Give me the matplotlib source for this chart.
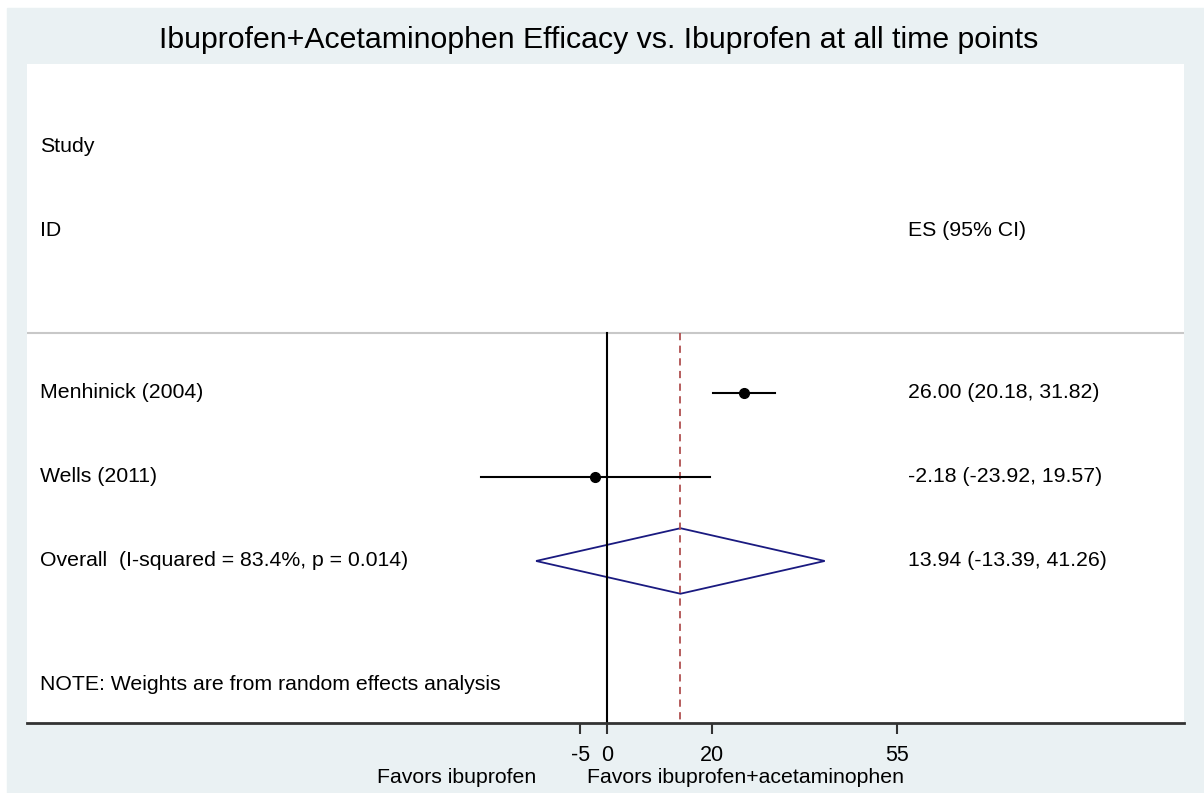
import matplotlib.pyplot as plt
import matplotlib.transforms as mtransforms
from matplotlib.patches import Rectangle, Polygon

plt.rcParams['font.family'] = ['Liberation Sans', 'DejaVu Sans']

# study level results
studies = ["Menhinick (2004)", "Wells (2011)"]
es = [26.00, -2.18]
ci_lo = [20.18, -23.92]
ci_hi = [31.82, 19.57]

# pooled (random effects)
overall_label = "Overall  (I-squared = 83.4%, p = 0.014)"
overall_es = 13.94
overall_lo = -13.39
overall_hi = 41.26

xticks = [-5, 0, 20, 55]
title = "Ibuprofen+Acetaminophen Efficacy vs. Ibuprofen at all time points"

fig = plt.figure(figsize=(12.04, 7.93), dpi=100)
fig.patch.set_facecolor("white")
# stata style gray frame
fig.patches.append(Rectangle((7 / 1204, 0), 1 - 7 / 1204, 1 - 8 / 793,
                             transform=fig.transFigure, color="#eaf1f3", zorder=-1))

ax = fig.add_axes([27 / 1204, 1 - 723 / 793, 1157 / 1204, 659 / 793])
ax.set_facecolor("white")
ax.set_xlim(-109.8, 109.3)
ax.set_ylim(4.929, -2.917)
for s in ["top", "left", "right"]:
    ax.spines[s].set_visible(False)
ax.spines["bottom"].set_color("#333333")
ax.spines["bottom"].set_linewidth(2)
ax.set_yticks([])
ax.set_xticks(xticks)
ax.set_xticklabels([str(t) for t in xticks])
ax.tick_params(axis="x", direction="out", length=8, width=1.5, color="#333333",
               labelsize=15.5, pad=8)

rows = list(range(1, len(studies) + 1))
overall_row = len(studies) + 1
header_y = 0.286

# header separator
ax.axhline(header_y, color="#c8c8c8", lw=1.5)

# null line and pooled estimate line
ax.plot([0, 0], [header_y, 4.929], color="black", lw=1.5)
ax.plot([overall_es, overall_es], [header_y, 4.929], color="#b05050", lw=1.3,
        dashes=(4, 3))

for r, e, lo, hi in zip(rows, es, ci_lo, ci_hi):
    ax.plot([lo, hi], [r, r], color="black", lw=1.5)
    ax.plot(e, r, "o", color="black", ms=7)

h = 0.39
diamond = Polygon([(overall_lo, overall_row), (overall_es, overall_row - h),
                   (overall_hi, overall_row), (overall_es, overall_row + h)],
                  closed=True, fill=False, edgecolor="#1a1a80", lw=1.3)
ax.add_patch(diamond)

trans = mtransforms.blended_transform_factory(ax.transAxes, ax.transData)
lx = 0.0112
rx = 0.7615
fs = 15.3
ax.text(lx, -1.93, "Study", transform=trans, fontsize=fs, va="center")
ax.text(lx, -0.94, "ID", transform=trans, fontsize=fs, va="center")
ax.text(rx, -0.94, "ES (95% CI)", transform=trans, fontsize=fs, va="center")

for r, name, e, lo, hi in zip(rows, studies, es, ci_lo, ci_hi):
    ax.text(lx, r, name, transform=trans, fontsize=fs, va="center")
    ax.text(rx, r, f"{e:.2f} ({lo:.2f}, {hi:.2f})", transform=trans,
            fontsize=fs, va="center")

ax.text(lx, overall_row, overall_label, transform=trans, fontsize=fs, va="center")
ax.text(rx, overall_row, f"{overall_es:.2f} ({overall_lo:.2f}, {overall_hi:.2f})",
        transform=trans, fontsize=fs, va="center")
ax.text(lx, 4.476, "NOTE: Weights are from random effects analysis",
        transform=trans, fontsize=fs, va="center")

# favours labels under the axis
tb = mtransforms.blended_transform_factory(ax.transData, ax.transAxes)
ax.text(-13.3, -0.082, "Favors ibuprofen", transform=tb, fontsize=fs,
        ha="right", va="center")
ax.text(-3.8, -0.082, "Favors ibuprofen+acetaminophen", transform=tb,
        fontsize=fs, ha="left", va="center")

fig.text(0.497, 1 - 40 / 793, title, fontsize=21.8, ha="center", va="center")

fig.savefig("out.png", dpi=100)
